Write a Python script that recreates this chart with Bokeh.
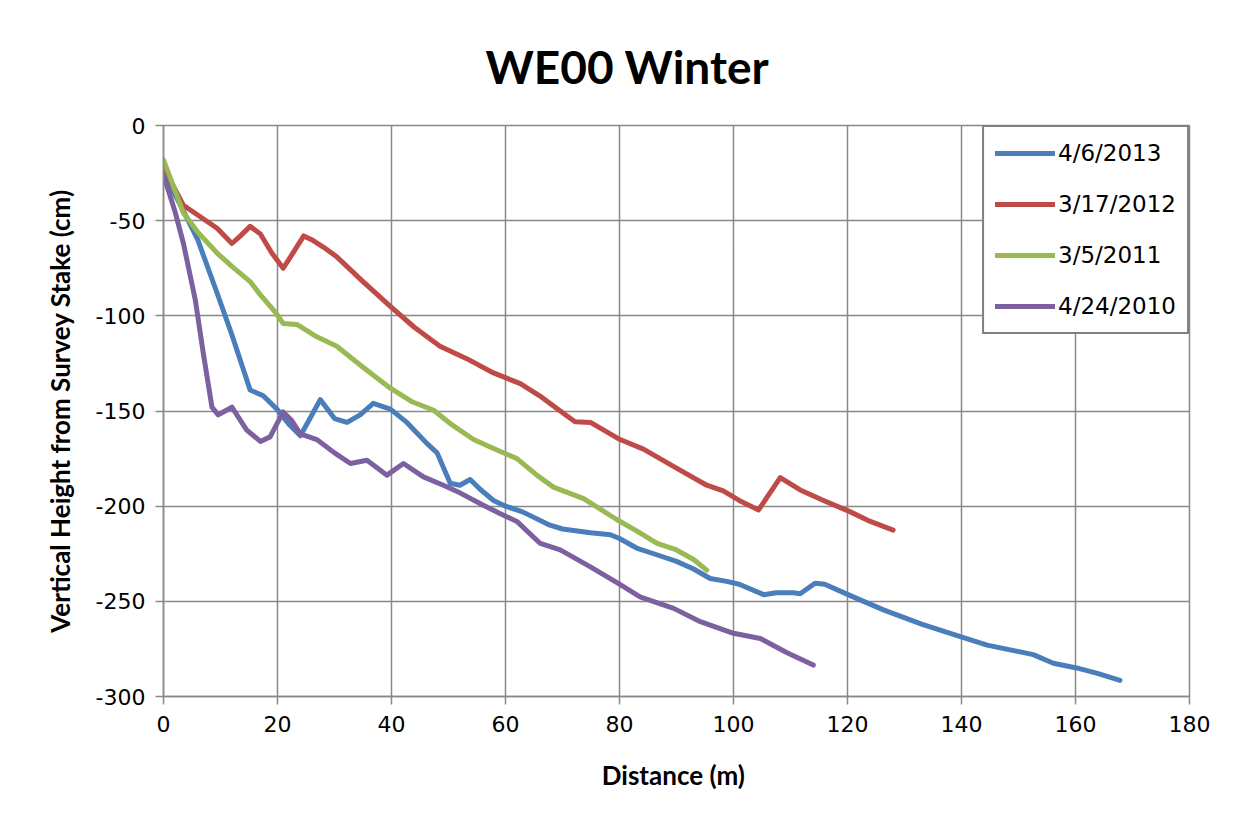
from bokeh.plotting import figure
from bokeh.models import Range1d, FixedTicker, Legend, LegendItem, Title
from bokeh.embed import file_html
from bokeh.resources import INLINE

# ---- data ----
series_names = ["4/6/2013", "3/17/2012", "3/5/2011", "4/24/2010"]
series_colors = ["#4A7EBB", "#BE4B48", "#98B954", "#7D60A0"]

x_2013 = [0, 3, 6, 9.4, 12, 15.2, 17.5, 19.9, 22, 24, 25.5, 27.5, 30, 32.2, 34.5, 36.8,
          39.8, 42.7, 46.2, 48, 50.3, 52, 53.8, 55.5, 57.9, 60, 63, 67.8, 70, 74.9, 78.4,
          80, 83, 86, 90, 93, 95.9, 98.8, 101, 105.3, 107.5, 110.5, 111.7, 114.3, 116,
          120.5, 126.3, 133, 139.8, 144.5, 152.6, 156.1, 160.2, 164, 167.8]
y_2013 = [-25, -42, -60, -88, -110, -139, -142, -149, -157, -163, -155, -144, -154, -156,
          -152, -146, -149, -156, -167, -172, -188, -189, -186, -191, -197, -200, -203,
          -210, -212, -214, -215, -217, -222, -225, -229, -233, -238, -239.5, -241, -246.5,
          -245.5, -245.5, -246, -240.5, -241, -247, -254.5, -262, -268.5, -273, -278,
          -282.5, -285, -288, -291.5]

x_2012 = [0, 3.5, 6, 9.4, 12, 13.5, 15.2, 17, 19, 21, 22.5, 24.6, 26, 28.1, 30.4, 35, 39.8,
          44, 48.5, 53.2, 57.9, 62.6, 66, 69.6, 72.2, 74.9, 80.1, 84.2, 90, 95.3, 98.2, 101,
          104.4, 108.2, 111.7, 115.8, 120.5, 124, 128]
y_2012 = [-22, -42, -47, -54, -62, -58, -53, -57, -67, -75, -68, -58, -60, -64, -69, -82, -95,
          -106, -116, -122.5, -130, -135.6, -142, -150, -155.7, -156, -165, -170, -180, -189,
          -192, -197, -202, -185, -191.5, -197, -203, -208, -212.6]

x_2011 = [0, 3.5, 6, 9.4, 12, 15.2, 17, 19.6, 21, 23.4, 26.9, 30.4, 35, 39.8, 43.5, 47.4,
          50.3, 54.4, 57.9, 62, 65.5, 68.4, 73.7, 79.5, 83, 86.6, 90, 93, 95.3]
y_2011 = [-18, -46, -56, -67, -74, -82, -89, -98, -104, -104.5, -111, -116, -127, -138, -145,
          -149.6, -156.6, -165, -169.7, -175, -183.7, -190, -196, -207, -213, -219.6, -223,
          -228, -233.6]

x_2010 = [0, 2, 3.5, 5.6, 7, 8.5, 9.6, 12, 14.6, 17, 18.7, 21, 22.5, 24, 26.9, 30, 32.8, 35.7,
          39.2, 42.1, 45.6, 49.1, 52, 56.1, 59, 62, 66.1, 69.6, 74.9, 80, 83.6, 89.5, 94.2,
          100, 104.7, 109.4, 114]
y_2010 = [-26, -45, -62, -92, -120, -148, -152, -148, -160, -166, -163.6, -150.5, -155, -162,
          -165, -172, -177.6, -175.9, -183.7, -177.6, -184.6, -189, -193, -199.5, -203.8, -208,
          -219.6, -223, -231.9, -241, -247.6, -253.7, -260.7, -266.8, -269.5, -277, -283.5]

x_ticks = [0, 20, 40, 60, 80, 100, 120, 140, 160, 180]
y_ticks = [0, -50, -100, -150, -200, -250, -300]
y_tick_labels = ["0", "-50", "-100", "-150", "-200", "-250", "-300"]

TFONT = "Lato"
NFONT = "DejaVu Sans"
GRID = "#898989"

p = figure(width=1233, height=820, output_backend="svg", toolbar_location=None,
           x_range=Range1d(0, 180), y_range=Range1d(-300, 0),
           min_border_left=163, min_border_right=44, min_border_top=125, min_border_bottom=124)

t = Title(text="WE00 Winter", align="left", text_font=TFONT, text_font_size="46px",
          text_font_style="bold", text_color="black", standoff=64, offset=322)
p.add_layout(t, "above")

p.outline_line_color = GRID
p.outline_line_width = 1.5

for ax in (p.xaxis[0], p.yaxis[0]):
    ax.axis_line_color = GRID
    ax.axis_line_width = 1.5
    ax.major_tick_line_color = GRID
    ax.major_tick_line_width = 1.5
    ax.major_tick_in = 0
    ax.major_tick_out = 8
    ax.minor_tick_line_color = None
    ax.major_label_text_font = NFONT
    ax.major_label_text_font_size = "22px"
    ax.major_label_text_color = "black"
    ax.axis_label_text_font = TFONT
    ax.axis_label_text_font_size = "26px"
    ax.axis_label_text_font_style = "bold"
    ax.axis_label_text_color = "black"

p.xaxis[0].ticker = FixedTicker(ticks=x_ticks)
p.yaxis[0].ticker = FixedTicker(ticks=y_ticks)
p.yaxis[0].major_label_overrides = {v: s for v, s in zip(y_ticks, y_tick_labels)}
p.xaxis[0].axis_label = "Distance  (m)"
p.yaxis[0].axis_label = "Vertical Height from Survey Stake (cm)"
p.xaxis[0].major_label_standoff = 11
p.yaxis[0].major_label_standoff = 10
p.xaxis[0].axis_label_standoff = 24
p.yaxis[0].axis_label_standoff = 17

p.xgrid.ticker = FixedTicker(ticks=x_ticks)
p.ygrid.ticker = FixedTicker(ticks=y_ticks)
p.xgrid.grid_line_color = GRID
p.ygrid.grid_line_color = GRID
p.xgrid.grid_line_width = 1.5
p.ygrid.grid_line_width = 1.5

xs = [x_2013, x_2012, x_2011, x_2010]
ys = [y_2013, y_2012, y_2011, y_2010]
renderers = []
for x, y, c in zip(xs, ys, series_colors):
    r = p.line(x, y, line_color=c, line_width=5, line_join="round", line_cap="round")
    renderers.append(r)

legend = Legend(items=[LegendItem(label=n, renderers=[r]) for n, r in zip(series_names, renderers)],
                location="top_right", margin=0, padding=11, spacing=21,
                label_height=30, glyph_height=20, glyph_width=60, label_standoff=3,
                label_text_font=NFONT, label_text_font_size="23px", label_text_color="black",
                border_line_color="black", border_line_width=2, background_fill_color="white",
                background_fill_alpha=1.0)
p.add_layout(legend, "center")

open("out.html", "w").write(file_html(p, INLINE))
